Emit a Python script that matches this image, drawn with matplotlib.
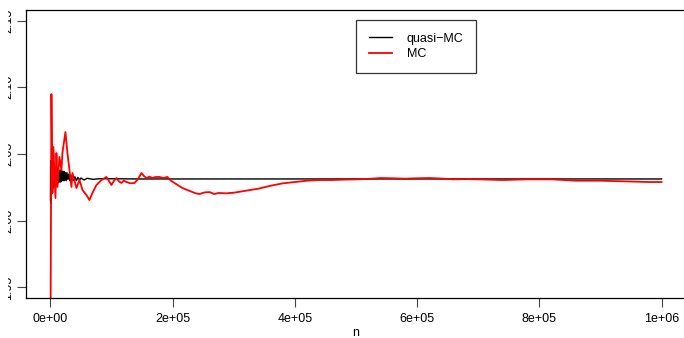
import matplotlib
matplotlib.use("Agg")
import matplotlib.pyplot as plt
import matplotlib.patches as mpatches

plt.rcParams["font.family"] = ["Liberation Sans", "DejaVu Sans"]

# quasi-MC running estimate (n, value)
qmc_n = [0, 300, 600, 800, 1100, 1600, 2000, 2400, 2800, 3300, 3700, 4100,
         4500, 4900, 5500, 6000, 6500, 7000, 7600, 8200, 8800, 9500, 10200,
         11000, 11700, 12500, 13200, 14000, 15000, 16000, 17000, 18000, 19000,
         20000, 21000, 22000, 23200, 24500, 25800, 27000, 28500, 30000, 31500,
         33000, 34500, 36000, 38000, 40000, 42500, 45000, 47500, 50000, 55000,
         60000, 70000, 80000, 150000, 300000, 500000, 700000, 1000000]
qmc_val = [2.0155, 2.040, 2.013, 2.045, 2.018, 2.043, 2.020, 2.043, 2.022,
           2.041, 2.024, 2.040, 2.025, 2.039, 2.026, 2.039, 2.026, 2.038,
           2.027, 2.038, 2.027, 2.037, 2.028, 2.037, 2.028, 2.0375, 2.029,
           2.0375, 2.029, 2.038, 2.029, 2.038, 2.030, 2.037, 2.030, 2.037,
           2.030, 2.036, 2.030, 2.036, 2.031, 2.035, 2.030, 2.0345, 2.030,
           2.034, 2.030, 2.033, 2.030, 2.0325, 2.0305, 2.032, 2.0305, 2.0318,
           2.031, 2.0315, 2.0313, 2.0313, 2.0313, 2.0313, 2.0313]

# plain MC running estimate (n, value)
mc_n = [0, 1600, 3300, 4900, 8200, 9800, 11500, 14700, 18000, 19600, 24500,
        27800, 31100, 34400, 36000, 42600, 47500, 52400, 58900, 63800, 68700,
        75300, 83500, 91600, 99800, 104000, 108000, 112000, 116200, 120000,
        124400, 131000, 137500, 143000, 148900, 153000, 157100, 162000,
        167000, 172000, 178400, 185000, 191500, 197000, 203000, 209000,
        216000, 224000, 232400, 238000, 244000, 252000, 260200, 268000,
        275000, 287000, 300000, 320000, 340000, 360000, 380000, 400000,
        420000, 440000, 460000, 480000, 500000, 520000, 540000, 560000,
        580000, 600000, 620000, 640000, 660000, 680000, 700000, 740000,
        780000, 820000, 860000, 900000, 940000, 980000, 1000000]
mc_val = [1.900, 2.0949, 2.0208, 2.0552, 2.0170, 2.0507, 2.0253, 2.0478,
          2.0380, 2.0507, 2.0665, 2.0507, 2.0380, 2.0253, 2.0358, 2.0245,
          2.0305, 2.0230, 2.0193, 2.0155, 2.0208, 2.0268, 2.0305, 2.0328,
          2.0268, 2.0300, 2.0320, 2.0295, 2.0283, 2.0300, 2.0290, 2.0280,
          2.0283, 2.0310, 2.0358, 2.0335, 2.0320, 2.0330, 2.0320, 2.0328,
          2.0328, 2.0320, 2.0328, 2.0300, 2.0283, 2.0265, 2.0245, 2.0230,
          2.0215, 2.0205, 2.0200, 2.0212, 2.0215, 2.0200, 2.0208, 2.0205,
          2.0210, 2.0225, 2.0240, 2.0262, 2.0280, 2.0290, 2.0300, 2.0305,
          2.0305, 2.0308, 2.0310, 2.0313, 2.0320, 2.0318, 2.0315, 2.0318,
          2.0320, 2.0316, 2.0310, 2.0312, 2.0310, 2.0305, 2.0310, 2.0310,
          2.0300, 2.0300, 2.0295, 2.0290, 2.0290]

x_ticks = [0, 200000, 400000, 600000, 800000, 1000000]
x_labels = ["0e+00", "2e+05", "4e+05", "6e+05", "8e+05", "1e+06"]
y_ticks = [1.95, 2.00, 2.05, 2.10, 2.15]
y_labels = ["1.95", "2.00", "2.05", "2.10", "2.15"]

fig = plt.figure(figsize=(6.84, 3.38), dpi=100)
ax = fig.add_axes([26 / 684, 40 / 338, 660 / 684, 288 / 338])

ax.plot(qmc_n, qmc_val, color="black", lw=1.0, label="quasi\u2212MC")
ax.plot(mc_n, mc_val, color="#ff0000", lw=1.3, label="MC")

ax.set_xlim(-40000, 1040000)
ax.set_ylim(1.9421, 2.1579)
ax.set_xticks(x_ticks)
ax.set_xticklabels(x_labels, fontsize=9)
ax.set_yticks(y_ticks)
ax.set_yticklabels(y_labels, fontsize=9, rotation=90, va="center")
ax.tick_params(axis="both", direction="out", length=6.5, width=0.8, color="#444444")
ax.tick_params(axis="x", pad=4)
ax.tick_params(axis="y", pad=2)
ax.set_xlabel("n", fontsize=9, labelpad=1.5)

for s in ax.spines.values():
    s.set_linewidth(0.9)

leg = ax.legend(loc="upper left", bbox_to_anchor=(0.5, 0.965), borderaxespad=0,
                fontsize=9, frameon=True, fancybox=False, edgecolor="black",
                handlelength=1.85, borderpad=1.0, labelspacing=0.3,
                handletextpad=1.2)
leg.get_frame().set_linewidth(0.9)

# the source device clips the rotated y labels at the left
fig.patches.append(mpatches.Rectangle((0, 0), 8 / 684, 1, transform=fig.transFigure,
                                      facecolor="white", edgecolor="none", zorder=10))

fig.savefig("out.png", dpi=100, facecolor="white")
